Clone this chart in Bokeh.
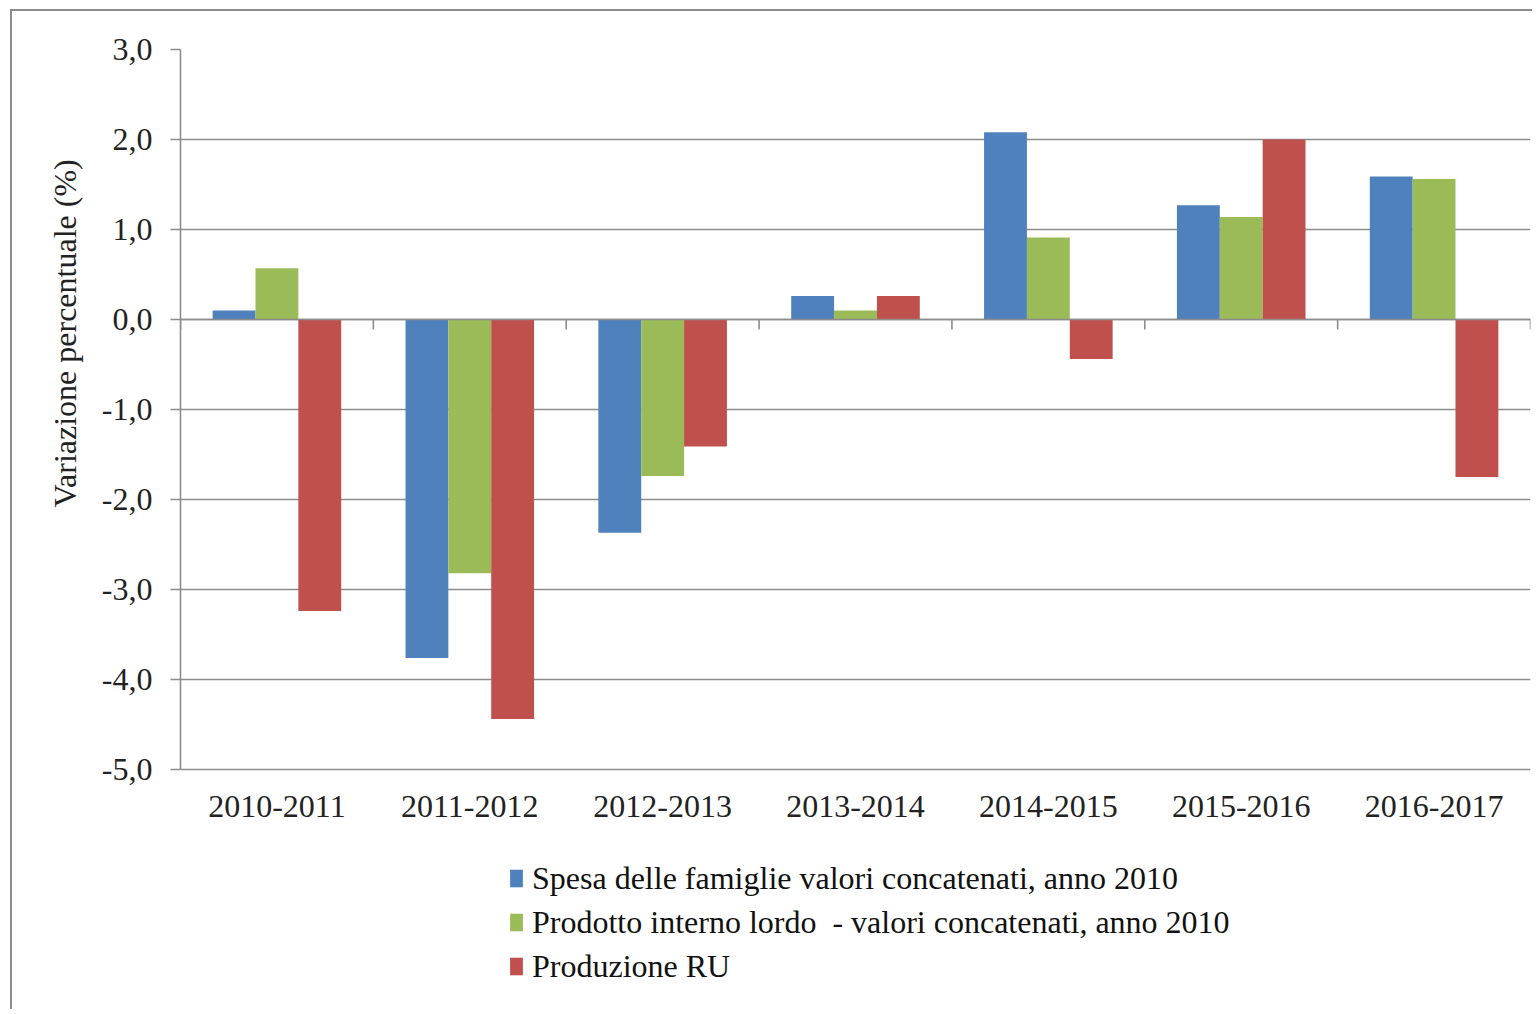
from bokeh.plotting import figure
from bokeh.models import (FactorRange, Range1d, FixedTicker, CustomJSTickFormatter,
                          Legend, LegendItem, Title, ColumnDataSource)
from bokeh.core.properties import value
from bokeh.transform import dodge
from bokeh.embed import file_html
from bokeh.resources import INLINE

# ---- data ----
categories = ["2010-2011", "2011-2012", "2012-2013", "2013-2014",
              "2014-2015", "2015-2016", "2016-2017"]
spesa = [0.10, -3.76, -2.37, 0.26, 2.08, 1.27, 1.59]
pil = [0.57, -2.82, -1.74, 0.10, 0.91, 1.14, 1.56]
ru = [-3.24, -4.44, -1.41, 0.26, -0.44, 2.00, -1.75]
series_names = ["Spesa delle famiglie valori concatenati, anno 2010",
                "Prodotto interno lordo  - valori concatenati, anno 2010",
                "Produzione RU"]
y_ticks = [-5, -4, -3, -2, -1, 0, 1, 2, 3]

FONT = "Liberation Serif"
GRID = "#8c8c8c"
TXT = "#222222"
COLORS = ["#4F81BD", "#9BBB59", "#C0504D"]

# layout (pixels)
W, H = 1522, 1000
TOP, LEFT, RIGHT, BOTTOM = 38, 168, 4, 0
PX_PER_UNIT = 90.0  # vertical pixels per 1 percentage point
frame_h = H - TOP - BOTTOM
y_end = y_ticks[-1]
y_start = y_end - frame_h / PX_PER_UNIT  # extra room below -5 keeps labels/legend inside the frame

n = len(categories)
source = ColumnDataSource(dict(cat=categories, spesa=spesa, pil=pil, ru=ru,
                               label_y=[y_ticks[0]] * n))

p = figure(width=W, height=H,
           x_range=FactorRange(factors=categories, range_padding=0),
           y_range=Range1d(y_start, y_end),
           x_axis_location=None,
           output_backend="svg", toolbar_location=None,
           min_border_left=LEFT, min_border_top=TOP,
           min_border_right=RIGHT, min_border_bottom=BOTTOM)
p.styles = {"border-left": "2px solid #8c8c8c", "border-top": "2px solid #8c8c8c",
            "position": "relative", "left": "10px", "top": "9px"}
p.outline_line_color = None
p.background_fill_color = "white"
p.border_fill_color = "white"

bar_w = 1 / 4.5
renderers = []
for i, (col, c) in enumerate(zip(["spesa", "pil", "ru"], COLORS)):
    r = p.vbar(x=dodge("cat", (i - 1) * bar_w, range=p.x_range), top=col, bottom=0,
               width=bar_w, fill_color=c, line_color=None, source=source)
    renderers.append(r)

# category axis crossing at zero, with tick marks between categories
bounds = list(range(n + 1))
p.segment(x0=[0], y0=[0], x1=[n], y1=[0], line_color=GRID, line_width=1.6)
p.segment(x0=bounds, y0=[0] * len(bounds), x1=bounds, y1=[-10 / PX_PER_UNIT] * len(bounds),
          line_color=GRID, line_width=1.6)

# category labels below the lowest gridline
p.text(x="cat", y="label_y", text="cat", source=source, y_offset=37,
       text_align="center", text_baseline="middle",
       text_font=value(FONT), text_font_size="32px", text_color=TXT)

# y axis
p.yaxis.ticker = FixedTicker(ticks=y_ticks)
p.yaxis.bounds = (y_ticks[0], y_ticks[-1])
p.yaxis.formatter = CustomJSTickFormatter(code="return tick.toFixed(1).replace('.', ',');")
p.yaxis.major_tick_out = 10
p.yaxis.major_tick_in = 0
p.yaxis.minor_tick_line_color = None
p.yaxis.axis_line_color = GRID
p.yaxis.axis_line_width = 1.6
p.yaxis.major_tick_line_color = GRID
p.yaxis.major_tick_line_width = 1.6
p.yaxis.major_label_standoff = 18
p.yaxis.major_label_text_font = FONT
p.yaxis.major_label_text_font_size = "32px"
p.yaxis.major_label_text_color = TXT

p.ygrid.ticker = FixedTicker(ticks=y_ticks)
p.ygrid.grid_line_color = GRID
p.ygrid.grid_line_width = 1.6
p.xgrid.grid_line_color = None

# y axis title
ytitle = Title(text="Variazione percentuale (%)", align="left", offset=504,
               text_font=FONT, text_font_size="32px", text_font_style="normal",
               text_color=TXT, standoff=31)
p.add_layout(ytitle, "left")

legend = Legend(items=[LegendItem(label=nm, renderers=[r]) for nm, r in zip(series_names, renderers)],
                location=(328, 26), orientation="vertical",
                label_text_font=FONT, label_text_font_size="32px", label_text_color="#111111",
                glyph_width=16, glyph_height=22, label_standoff=8, spacing=6,
                padding=0, margin=0, border_line_color=None, background_fill_alpha=0,
                label_height=38)
p.add_layout(legend, "center")

open("out.html", "w").write(file_html(p, INLINE))
